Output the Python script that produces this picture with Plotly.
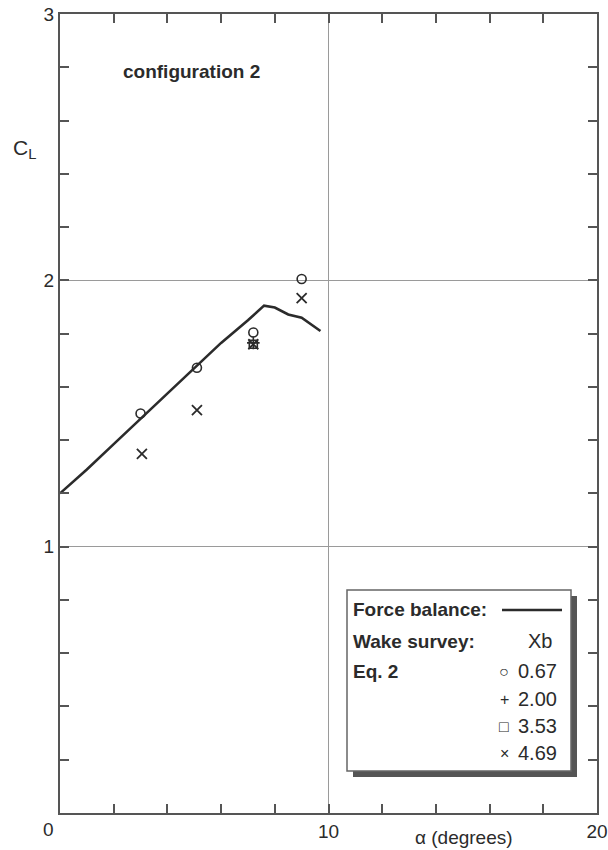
import plotly.graph_objects as go

# ---- data ----
fb_alpha = [0.0, 1.0, 2.0, 3.0, 4.0, 5.0, 6.0, 7.0, 7.6, 8.0, 8.5, 9.0, 9.7]
fb_cl = [1.20, 1.29, 1.385, 1.48, 1.575, 1.67, 1.765, 1.85, 1.905, 1.898, 1.872, 1.86, 1.81]

xb067_alpha = [3.0, 5.1, 7.2, 9.0]
xb067_cl = [1.50, 1.672, 1.804, 2.005]
xb200_alpha = [7.2]
xb200_cl = [1.765]
xb353_alpha = [7.2]
xb353_cl = [1.760]
xb469_alpha = [3.05, 5.1, 7.2, 9.0]
xb469_cl = [1.348, 1.513, 1.760, 1.933]

x_tickvals = [10, 20]
x_ticktext = ["10", "20"]
y_tickvals = [1, 2, 3]
y_ticktext = ["1", "2", "3"]

legend_labels = ["0.67", "2.00", "3.53", "4.69"]
legend_symbols = ["○", "+", "□", "×"]

W, H = 608, 850
L, R, T, B = 60, 11, 14, 37
PW, PH = W - L - R, H - T - B

def px(x):
    return (x - L) / PW

def py(y):
    return (H - B - y) / PH

INK = "#2b2b2b"
FONT = "Liberation Sans, Arial, sans-serif"

fig = go.Figure()
fig.add_trace(go.Scatter(x=fb_alpha, y=fb_cl, mode="lines",
                         line=dict(color=INK, width=2.6), showlegend=False))
fig.add_trace(go.Scatter(x=xb067_alpha, y=xb067_cl, mode="markers",
                         marker=dict(symbol="circle-open", size=9, color=INK, line=dict(width=1.6)),
                         showlegend=False))
fig.add_trace(go.Scatter(x=xb200_alpha, y=xb200_cl, mode="markers",
                         marker=dict(symbol="cross-thin-open", size=9, color=INK, line=dict(width=1.6)),
                         showlegend=False))
fig.add_trace(go.Scatter(x=xb353_alpha, y=xb353_cl, mode="markers",
                         marker=dict(symbol="square-open", size=8, color=INK, line=dict(width=1.6)),
                         showlegend=False))
fig.add_trace(go.Scatter(x=xb469_alpha, y=xb469_cl, mode="markers",
                         marker=dict(symbol="x-thin-open", size=10, color=INK, line=dict(width=1.8)),
                         showlegend=False))

axis_common = dict(showline=True, linecolor="#555555", linewidth=2, mirror="ticks",
                   ticks="inside", ticklen=9, tickwidth=1.5, tickcolor="#555555",
                   zeroline=False, showgrid=True, gridcolor="#9a9a9a", gridwidth=1,
                   automargin=False,
                   tickfont=dict(family=FONT, size=19, color=INK))

fig.update_layout(
    width=W, height=H, margin=dict(l=L, r=R, t=T, b=B, pad=0, autoexpand=False),
    paper_bgcolor="white", plot_bgcolor="white",
    xaxis=dict(range=[0, 20], tickvals=x_tickvals, ticktext=x_ticktext,
               minor=dict(dtick=2, ticks="inside", ticklen=9, tickcolor="#555555", showgrid=False),
               **axis_common),
    yaxis=dict(range=[0, 3], tickvals=y_tickvals, ticktext=y_ticktext,
               minor=dict(dtick=0.2, ticks="inside", ticklen=9, tickcolor="#555555", showgrid=False),
               **axis_common),
)

ann = []
def text(x, y, s, size=17, bold=False, xanchor="left", color=INK):
    ann.append(dict(xref="paper", yref="paper", x=px(x), y=py(y), text=("<b>%s</b>" % s) if bold else s,
                    showarrow=False, xanchor=xanchor, yanchor="middle",
                    font=dict(family=FONT, size=size, color=color)))

text(48, 829, "0", size=19, xanchor="center")
text(11, 149, "C<sub>L</sub>", size=21)
text(464, 837, "α (degrees)", size=19, xanchor="center")
text(121, 71, "configuration 2", size=19, bold=True)

# legend box
shapes = [
    dict(type="rect", xref="paper", yref="paper", x0=px(353), x1=px(577), y0=py(596), y1=py(777),
         fillcolor="#555555", line=dict(width=0), layer="above"),
    dict(type="rect", xref="paper", yref="paper", x0=px(347), x1=px(571), y0=py(590), y1=py(771),
         fillcolor="white", line=dict(color="#666666", width=1.5), layer="above"),
    dict(type="line", xref="paper", yref="paper", x0=px(502), x1=px(562), y0=py(610), y1=py(610),
         line=dict(color=INK, width=2.6), layer="above"),
]
text(351, 609, "Force balance:", size=19, bold=True)
text(351, 641, "Wake survey:", size=19, bold=True)
text(540, 641, "Xb", size=20, xanchor="center")
text(351, 671, "Eq. 2", size=19, bold=True)
rows = [671, 699, 726, 753]
for yy, sym, lab in zip(rows, legend_symbols, legend_labels):
    text(504, yy, sym, size=16, xanchor="center")
    text(516, yy, lab, size=20)

fig.update_layout(annotations=ann, shapes=shapes)
fig.write_html("out.html")
